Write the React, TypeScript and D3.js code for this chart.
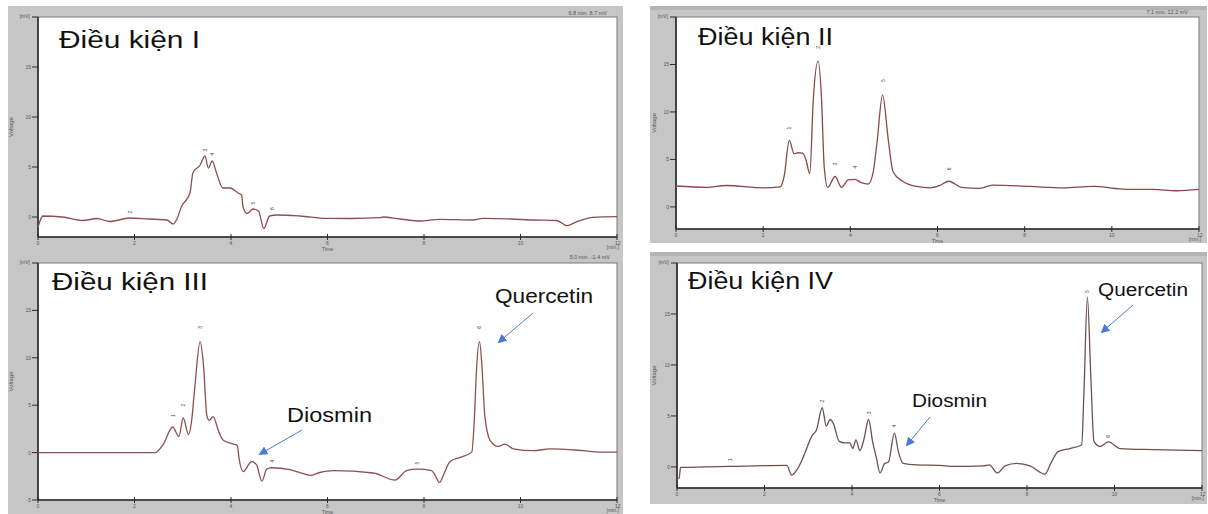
import React from "react";
import * as d3 from "d3";

// ---------- DATA ----------
const cond1Time = [0, 0.08, 0.1, 0.5, 0.93, 1.22, 1.49, 1.9, 2.3, 2.67, 2.8, 2.87, 2.97, 3.15, 3.21, 3.36, 3.46, 3.53, 3.61, 3.7, 3.83, 3.98, 4.15, 4.22, 4.25, 4.33, 4.46, 4.57, 4.68, 4.8, 4.95, 5.43, 5.99, 6.5, 7.09, 7.15, 7.5, 7.92, 8.33, 9.02, 9.22, 9.8, 10.26, 10.75, 10.96, 11.17, 11.5, 12];
const cond1Voltage = [-1.0, 0, 0.1, 0.0, -0.35, -0.15, -0.45, -0.1, -0.2, -0.3, -0.7, -0.3, 1.0, 2.4, 4.4, 5.2, 6.1, 4.9, 5.6, 4.4, 2.9, 2.9, 2.4, 2.2, 1.0, 0.35, 0.8, 0.6, -1.15, 0.1, 0.2, 0.1, -0.13, -0.15, -0.07, 0.0, -0.2, -0.4, -0.23, -0.3, -0.13, -0.2, -0.3, -0.35, -0.87, -0.47, -0.03, 0.03];
const cond1PeakTime = [1.9, 3.46, 3.6, 4.46, 4.86];
const cond1PeakLevel = [0.5, 6.7, 6.3, 1.4, 0.85];
const cond1PeakNumber = ["2", "3", "4", "5", "6"];

const cond2Time = [0, 0.7, 1.16, 2.0, 2.39, 2.48, 2.6, 2.71, 2.8, 2.9, 2.98, 3.07, 3.15, 3.26, 3.34, 3.4, 3.48, 3.65, 3.8, 3.95, 4.1, 4.25, 4.41, 4.52, 4.61, 4.74, 4.87, 4.98, 5.2, 5.52, 5.83, 6.05, 6.26, 6.55, 6.97, 7.27, 8.12, 8.88, 9.57, 10.34, 10.95, 11.49, 12];
const cond2Voltage = [2.2, 2.05, 2.25, 2.0, 2.1, 3.2, 7.0, 5.6, 5.7, 5.65, 5.0, 3.5, 11.3, 15.35, 11.3, 4.25, 2.05, 3.2, 2.05, 2.85, 2.9, 2.55, 2.4, 3.55, 6.7, 11.8, 7.1, 3.7, 2.7, 2.15, 2.0, 2.25, 2.7, 2.05, 1.95, 2.3, 2.15, 2.0, 2.15, 1.85, 1.85, 1.7, 1.85];
const cond2PeakTime = [2.6, 3.26, 3.65, 4.1, 4.75, 6.26];
const cond2PeakLevel = [8.3, 16.8, 4.5, 4.2, 13.3, 4.0];
const cond2PeakNumber = ["1", "2", "3", "4", "5", "6"];

const cond3Time = [0, 2.43, 2.6, 2.79, 2.92, 3.01, 3.12, 3.18, 3.25, 3.36, 3.43, 3.5, 3.55, 3.63, 3.74, 3.84, 4.05, 4.13, 4.17, 4.25, 4.43, 4.53, 4.64, 4.74, 4.84, 5.22, 5.43, 5.64, 5.84, 6.12, 6.95, 7.4, 7.64, 7.85, 8.16, 8.23, 8.32, 8.4, 8.54, 8.75, 8.99, 9.04, 9.09, 9.15, 9.2, 9.26, 9.37, 9.54, 9.68, 9.85, 10.27, 10.61, 11.3, 11.65, 12];
const cond3Voltage = [0, 0, 0.9, 2.7, 1.7, 3.65, 1.9, 3.2, 6.9, 11.7, 9.2, 3.9, 3.4, 3.8, 2.3, 1.3, 0.9, 0.75, -0.7, -2.0, -0.95, -1.3, -3.0, -1.75, -1.6, -1.8, -2.1, -2.4, -2.1, -1.9, -2.15, -2.9, -1.9, -1.75, -1.9, -2.4, -3.15, -2.4, -0.95, -0.5, 0.05, 3.2, 8.9, 11.7, 9.2, 3.9, 1.3, 0.65, 0.9, 0.4, 0.2, 0.4, 0.2, 0.05, 0.05];
const cond3PeakTime = [2.79, 3.01, 3.36, 4.85, 7.85, 9.15];
const cond3PeakLevel = [3.9, 5.0, 13.2, -0.9, -1.1, 13.2];
const cond3PeakNumber = ["1", "2", "3", "4", "5", "6"];

const cond4Time = [0, 0.05, 0.08, 0.68, 1.21, 2.51, 2.62, 2.74, 2.89, 3.08, 3.19, 3.32, 3.41, 3.5, 3.57, 3.71, 3.84, 3.95, 4.02, 4.09, 4.18, 4.27, 4.38, 4.47, 4.56, 4.64, 4.75, 4.83, 4.97, 5.06, 5.17, 5.48, 6.01, 6.32, 7.0, 7.14, 7.32, 7.5, 7.76, 8.07, 8.41, 8.56, 8.71, 8.98, 9.25, 9.3, 9.38, 9.46, 9.53, 9.67, 9.86, 10.13, 10.89, 12];
const cond4Voltage = [-1.1, -1.1, -0.05, 0.0, 0.05, 0.15, -0.8, -0.3, 1.0, 3.0, 3.65, 5.8, 4.0, 4.65, 4.3, 2.5, 2.35, 2.35, 1.8, 2.65, 1.6, 2.65, 4.65, 2.5, 0.85, -0.6, 0.35, 0.45, 3.3, 1.5, 0.35, 0.2, 0.15, 0.05, 0.1, 0.2, -0.6, 0.1, 0.35, 0.1, -0.7, 0.5, 1.5, 1.8, 2.15, 7.1, 16.65, 8.75, 2.5, 2.0, 2.45, 1.8, 1.7, 1.6];
const cond4PeakTime = [1.2, 3.32, 4.38, 4.97, 9.38, 9.86];
const cond4PeakLevel = [0.7, 6.45, 5.3, 4.0, 17.2, 3.0];
const cond4PeakNumber = ["1", "2", "3", "4", "5", "6"];

const timeTicks = [0, 2, 4, 6, 8, 10, 12];
const voltTicksA = [0, 5, 10, 15];
const voltTicksB = [-5, 0, 5, 10, 15];

const titles = ["Điều kiện I", "Điều kiện II", "Điều kiện III", "Điều kiện IV"];
const cursorTexts = ["6.8 min.  8.7 mV", "7.1 min.  12.2 mV", "5.0 min.  -1.4 mV"];

// ---------- LAYOUT ----------
type Ann = { text: string; x: number; y: number; w: number; fs: number; ax1: number; ay1: number; ax2: number; ay2: number };
type Cfg = {
  time: number[]; volt: number[]; pt: number[]; pl: number[]; pn: string[];
  x0: number; x1: number; y0: number; y1: number; ymin: number; ymax: number;
  yticks: number[]; title: string; tx: number; ty: number; tw: number;
  cursor?: string; cx?: number; cy?: number; color: string; anns: Ann[];
  vx: number;
};

const FONT = "'Liberation Sans', Arial, sans-serif";
const ARROW = "#4a7bd0";

const panels: Cfg[] = [
  { time: cond1Time, volt: cond1Voltage, pt: cond1PeakTime, pl: cond1PeakLevel, pn: cond1PeakNumber,
    x0: 38, x1: 617, y0: 17, y1: 237, ymin: -2, ymax: 20, yticks: voltTicksA,
    title: titles[0], tx: 59, ty: 48, tw: 141, cursor: cursorTexts[0], cx: 607, cy: 15, color: "#8e4f4f", anns: [], vx: 13 },
  { time: cond2Time, volt: cond2Voltage, pt: cond2PeakTime, pl: cond2PeakLevel, pn: cond2PeakNumber,
    x0: 676, x1: 1199, y0: 17, y1: 229, ymin: -2.33, ymax: 20, yticks: voltTicksA,
    title: titles[1], tx: 698, ty: 45, tw: 135, cursor: cursorTexts[1], cx: 1188, cy: 14, color: "#8a4848", anns: [], vx: 656 },
  { time: cond3Time, volt: cond3Voltage, pt: cond3PeakTime, pl: cond3PeakLevel, pn: cond3PeakNumber,
    x0: 38, x1: 617, y0: 263, y1: 500, ymin: -5, ymax: 20, yticks: voltTicksB,
    title: titles[2], tx: 52, ty: 290, tw: 156, cursor: cursorTexts[2], cx: 610, cy: 259, color: "#8e4f4f",
    anns: [
      { text: "Diosmin", x: 287, y: 422, w: 85, fs: 20, ax1: 302, ay1: 430, ax2: 260, ay2: 454 },
      { text: "Quercetin", x: 495, y: 303, w: 98, fs: 20, ax1: 533, ay1: 313, ax2: 499, ay2: 342 },
    ], vx: 13 },
  { time: cond4Time, volt: cond4Voltage, pt: cond4PeakTime, pl: cond4PeakLevel, pn: cond4PeakNumber,
    x0: 677, x1: 1202, y0: 263, y1: 488, ymin: -2.07, ymax: 20, yticks: voltTicksA,
    title: titles[3], tx: 688, ty: 289, tw: 145, color: "#6e5050",
    anns: [
      { text: "Diosmin", x: 912, y: 407, w: 75, fs: 18, ax1: 930, ay1: 417, ax2: 907, ay2: 445 },
      { text: "Quercetin", x: 1098, y: 296, w: 90, fs: 18, ax1: 1133, ay1: 305, ax2: 1102, ay2: 332 },
    ], vx: 656 },
];

function Panel({ c }: { c: Cfg }) {
  const x = d3.scaleLinear().domain([0, 12]).range([c.x0, c.x1]);
  const y = d3.scaleLinear().domain([c.ymin, c.ymax]).range([c.y1, c.y0]);
  const pts: [number, number][] = c.time.map((t, i) => [t, c.volt[i]]);
  const line = d3.line<[number, number]>().x((d) => x(d[0])).y((d) => y(d[1])).curve(d3.curveMonotoneX);
  const axisColor = "#2a2a2a";
  const tickText = "#555";
  return (
    <g>
      <rect x={c.x0} y={c.y0} width={c.x1 - c.x0} height={c.y1 - c.y0} fill="#fff" stroke="#7a7a7a" strokeWidth={1} />
      {/* y axis */}
      <line x1={c.x0} x2={c.x0} y1={c.y0} y2={c.y1} stroke={axisColor} strokeWidth={1.6} />
      <line x1={c.x0 - 6} x2={c.x0} y1={c.y0} y2={c.y0} stroke={axisColor} strokeWidth={1} />
      <text x={c.x0 - 8} y={c.y0 + 1} fontSize={5} fill={tickText} textAnchor="end" fontFamily={FONT}>[mV]</text>
      {c.yticks.map((v) => (
        <g key={v}>
          <line x1={c.x0 - 6} x2={c.x0} y1={y(v)} y2={y(v)} stroke={axisColor} strokeWidth={1} />
          <text x={c.x0 - 7} y={y(v) + 2} fontSize={5} fill={tickText} textAnchor="end" fontFamily={FONT}>{v}</text>
        </g>
      ))}
      <text transform={`translate(${c.vx},${(c.y0 + c.y1) / 2}) rotate(-90)`} fontSize={6} fill={tickText} textAnchor="middle" fontFamily={FONT}>Voltage</text>
      {/* x axis */}
      <line x1={c.x0} x2={c.x1} y1={c.y1} y2={c.y1} stroke={axisColor} strokeWidth={1.6} />
      {timeTicks.map((t) => (
        <g key={t}>
          <line x1={x(t)} x2={x(t)} y1={c.y1 - 3} y2={c.y1 + 3} stroke={axisColor} strokeWidth={1} />
          <text x={x(t)} y={c.y1 + 8} fontSize={5} fill={tickText} textAnchor={t === 12 ? "start" : "middle"} dx={t === 12 ? -2 : 0} fontFamily={FONT}>{t}</text>
        </g>
      ))}
      <text x={x(6)} y={c.y1 + 14} fontSize={5} fill={tickText} textAnchor="middle" fontFamily={FONT}>Time</text>
      <text x={c.x1 + 2} y={c.y1 + 12} fontSize={5} fill={tickText} textAnchor="end" fontFamily={FONT}>[min.]</text>
      {c.cursor && (
        <text x={c.cx} y={c.cy} fontSize={5.5} fill={tickText} textAnchor="end" fontFamily={FONT}>{c.cursor}</text>
      )}
      {/* trace */}
      <path d={line(pts) || ""} fill="none" stroke={c.color} strokeWidth={1.3} strokeLinejoin="round" />
      {c.pt.map((t, i) => (
        <text key={i} transform={`translate(${x(t) + 2},${y(c.pl[i])}) rotate(-90)`} fontSize={5} fill="#444" textAnchor="middle" fontFamily={FONT}>{c.pn[i]}</text>
      ))}
      {/* title */}
      <text x={c.tx} y={c.ty} fontSize={23} fill="#111" fontFamily={FONT} textLength={c.tw} lengthAdjust="spacingAndGlyphs">{c.title}</text>
      {c.anns.map((a, i) => (
        <g key={i}>
          <text x={a.x} y={a.y} fontSize={a.fs} fill="#111" fontFamily={FONT} textLength={a.w} lengthAdjust="spacingAndGlyphs">{a.text}</text>
          <line x1={a.ax1} y1={a.ay1} x2={a.ax2} y2={a.ay2} stroke={ARROW} strokeWidth={1} markerEnd="url(#arrowHead)" />
        </g>
      ))}
    </g>
  );
}

export default function App() {
  return (
    <svg width={1208} height={514} style={{ position: "absolute", left: 0, top: 0, background: "#fff" }}>
      <defs>
        <marker id="arrowHead" viewBox="0 0 10 10" refX="8" refY="5" markerWidth="9" markerHeight="9" markerUnits="userSpaceOnUse" orient="auto">
          <path d="M0,0 L10,5 L0,10 z" fill={ARROW} />
        </marker>
      </defs>
      <rect x={0} y={0} width={1208} height={514} fill="#fff" />
      {/* grey frames */}
      <rect x={8} y={6} width={615} height={508} fill="#c6c6c6" />
      <rect x={650} y={6} width={557} height={237} fill="#c6c6c6" />
      <rect x={650} y={6} width={557} height={4} fill="#b4b4b4" />
      <rect x={650} y={252} width={557} height={252} fill="#c6c6c6" />
      <rect x={650} y={252} width={557} height={4} fill="#b4b4b4" />
      {panels.map((c, i) => (
        <Panel key={i} c={c} />
      ))}
    </svg>
  );
}
